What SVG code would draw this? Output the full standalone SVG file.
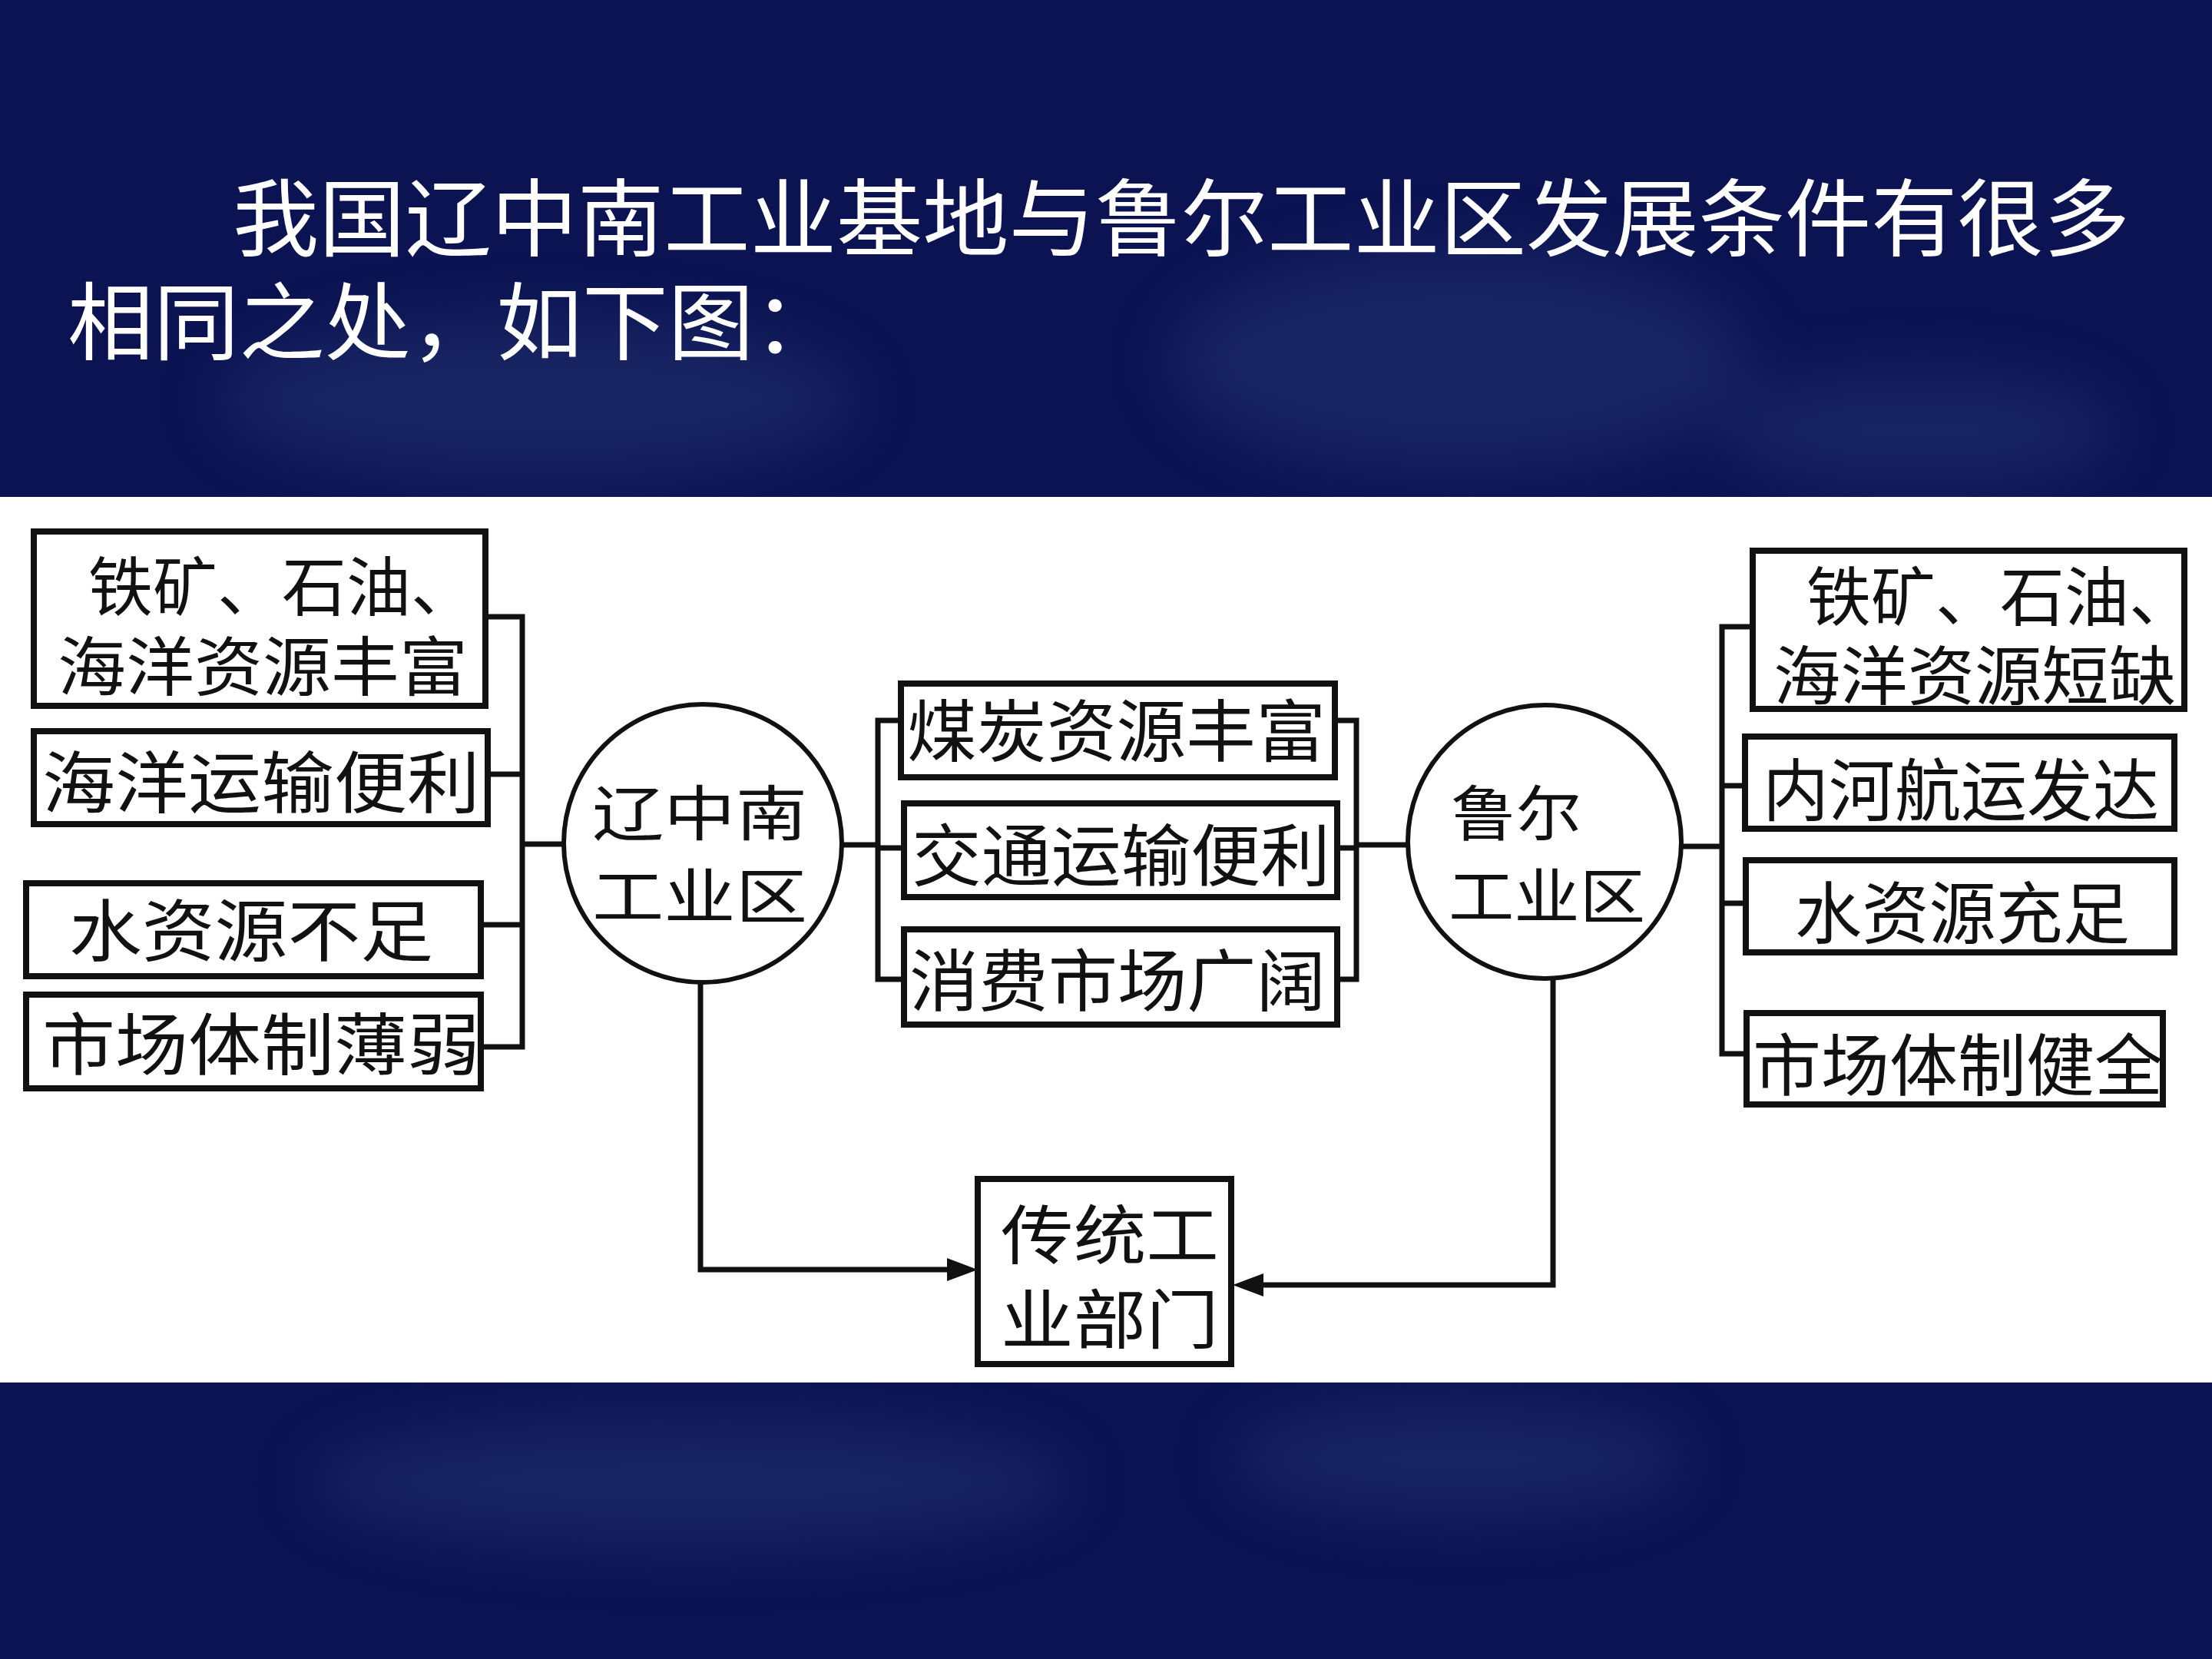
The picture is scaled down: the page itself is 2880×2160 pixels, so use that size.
<svg xmlns="http://www.w3.org/2000/svg" width="2880" height="2160" viewBox="0 0 2880 2160">
  <defs>
    <style>
      .box { fill: #ffffff; stroke: #111111; stroke-width: 8; }
      .circ { fill: #ffffff; stroke: #111111; stroke-width: 6; }
      .lbl { font-family: "Noto Sans CJK SC", "Noto Sans CJK TC", sans-serif; font-size: 88px; fill: #111111; dominant-baseline: central; }
      .lbl2 { font-family: "Noto Sans CJK SC", "Noto Sans CJK TC", sans-serif; font-size: 84px; fill: #111111; dominant-baseline: central; }
      .cl { font-family: "Noto Sans CJK SC", "Noto Sans CJK TC", sans-serif; font-size: 78px; fill: #111111; dominant-baseline: central; }
      .title { font-family: "Noto Sans CJK SC", "Noto Sans CJK TC", sans-serif; font-size: 110px; fill: #ffffff; dominant-baseline: central; }
      .con { fill: none; stroke: #111111; stroke-width: 7; stroke-linecap: square; }
    </style>
    <filter id="blur" x="-50%" y="-50%" width="200%" height="200%">
      <feGaussianBlur stdDeviation="40"/>
    </filter>
  </defs>

  <!-- background -->
  <rect x="0" y="0" width="2880" height="2160" fill="#0b1352"/>
  <g id="bg-texture" filter="url(#blur)" fill="#3a4f8a" opacity="0.28">
    <ellipse cx="700" cy="520" rx="420" ry="110"/>
    <ellipse cx="1900" cy="470" rx="380" ry="150"/>
    <ellipse cx="2500" cy="560" rx="260" ry="80"/>
    <ellipse cx="900" cy="1930" rx="500" ry="90"/>
    <ellipse cx="1900" cy="1900" rx="300" ry="80"/>
  </g>

  <!-- title -->
  <g id="title">
    <text class="title" x="303" y="277" textLength="2470" lengthAdjust="spacingAndGlyphs">我国辽中南工业基地与鲁尔工业区发展条件有很多</text>
    <text class="title" x="88" y="412" textLength="1005" lengthAdjust="spacingAndGlyphs">相同之处，如下图：</text>
  </g>

  <!-- white panel -->
  <rect id="panel" x="0" y="647" width="2880" height="1153" fill="#ffffff"/>

  <!-- connectors -->
  <g id="connectors">
    <path class="con" d="M632,803 H680 V1363 H626 M635,1008 H680 M626,1204 H680 M680,1099 H734"/>
    <path class="con" d="M1096,1100 H1143 M1173,938 H1143 V1275 H1177 M1143,1104 H1177"/>
    <path class="con" d="M1738,938 H1766 V1275 H1741 M1741,1104 H1766 M1766,1100 H1833"/>
    <path class="con" d="M2189,1102 H2242 M2282,816 H2242 V1372 H2274 M2242,1023 H2272 M2242,1176 H2273"/>
    <path class="con" d="M912,1280 V1653 H1240" />
    <path d="M1273,1653 L1233,1638 L1233,1668 Z" fill="#111111"/>
    <path class="con" d="M2022,1276 V1673 H1640" />
    <path d="M1605,1673 L1645,1658 L1645,1688 Z" fill="#111111"/>
  </g>

  <!-- left nodes -->
  <g id="left-rich">
    <rect class="box" x="44" y="692" width="588" height="227"/>
    <text class="lbl2" x="115" y="758" textLength="504" lengthAdjust="spacingAndGlyphs">铁矿、石油、</text>
    <text class="lbl2" x="75" y="862" textLength="534" lengthAdjust="spacingAndGlyphs">海洋资源丰富</text>
  </g>
  <g id="left-sea">
    <rect class="box" x="44" y="952" width="591" height="121"/>
    <text class="lbl" x="55" y="1012" textLength="570" lengthAdjust="spacingAndGlyphs">海洋运输便利</text>
  </g>
  <g id="left-water">
    <rect class="box" x="34" y="1150" width="592" height="121"/>
    <text class="lbl" x="90" y="1205" textLength="474" lengthAdjust="spacingAndGlyphs">水资源不足</text>
  </g>
  <g id="left-market">
    <rect class="box" x="34" y="1295" width="592" height="122"/>
    <text class="lbl" x="55" y="1353" textLength="570" lengthAdjust="spacingAndGlyphs">市场体制薄弱</text>
  </g>

  <!-- circles -->
  <g id="liaozhongnan">
    <circle class="circ" cx="915" cy="1098" r="181"/>
    <text class="cl" x="771" y="1054" textLength="280" lengthAdjust="spacingAndGlyphs">辽中南</text>
    <text class="cl" x="771" y="1162" textLength="280" lengthAdjust="spacingAndGlyphs">工业区</text>
  </g>
  <g id="ruhr">
    <circle class="circ" cx="2011" cy="1096" r="178"/>
    <text class="cl" x="1889" y="1054" textLength="170" lengthAdjust="spacingAndGlyphs">鲁尔</text>
    <text class="cl" x="1886" y="1162" textLength="256" lengthAdjust="spacingAndGlyphs">工业区</text>
  </g>

  <!-- center nodes -->
  <g id="coal">
    <rect class="box" x="1173" y="890" width="565" height="122"/>
    <text class="lbl" x="1181" y="945" textLength="545" lengthAdjust="spacingAndGlyphs">煤炭资源丰富</text>
  </g>
  <g id="transport">
    <rect class="box" x="1177" y="1046" width="564" height="122"/>
    <text class="lbl" x="1187" y="1107" textLength="545" lengthAdjust="spacingAndGlyphs">交通运输便利</text>
  </g>
  <g id="market">
    <rect class="box" x="1177" y="1210" width="564" height="124"/>
    <text class="lbl" x="1184" y="1270" textLength="542" lengthAdjust="spacingAndGlyphs">消费市场广阔</text>
  </g>

  <!-- right nodes -->
  <g id="right-short">
    <rect class="box" x="2282" y="717" width="562" height="206"/>
    <text class="lbl2" x="2352" y="771" textLength="504" lengthAdjust="spacingAndGlyphs">铁矿、石油、</text>
    <text class="lbl2" x="2309" y="874" textLength="524" lengthAdjust="spacingAndGlyphs">海洋资源短缺</text>
  </g>
  <g id="right-river">
    <rect class="box" x="2272" y="959" width="559" height="120"/>
    <text class="lbl" x="2295" y="1022" textLength="516" lengthAdjust="spacingAndGlyphs">内河航运发达</text>
  </g>
  <g id="right-water">
    <rect class="box" x="2273" y="1120" width="558" height="120"/>
    <text class="lbl" x="2337" y="1182" textLength="436" lengthAdjust="spacingAndGlyphs">水资源充足</text>
  </g>
  <g id="right-market">
    <rect class="box" x="2274" y="1319" width="542" height="119"/>
    <text class="lbl" x="2282" y="1380" textLength="534" lengthAdjust="spacingAndGlyphs">市场体制健全</text>
  </g>

  <!-- bottom node -->
  <g id="traditional">
    <rect class="box" x="1273" y="1535" width="330" height="241"/>
    <text class="lbl2" x="1303" y="1602" textLength="284" lengthAdjust="spacingAndGlyphs">传统工</text>
    <text class="lbl2" x="1303" y="1712" textLength="284" lengthAdjust="spacingAndGlyphs">业部门</text>
  </g>
</svg>
